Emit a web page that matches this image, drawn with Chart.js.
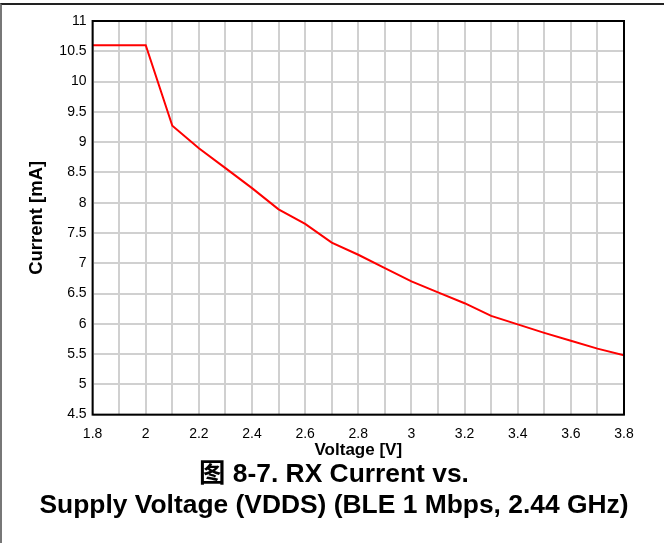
<!DOCTYPE html>
<html>
<head>
<meta charset="utf-8">
<script src="https://cdn.jsdelivr.net/npm/chart.js@4"></script>
<style>
  html, body { margin: 0; padding: 0; background: #fff; }
  #frame { position: absolute; left: 0; top: 3px; width: 664px; height: 540px;
           border-top: 2px solid #222; border-left: 2px solid #777; box-sizing: border-box; }
  #wrap { position: absolute; left: 0; top: 0; width: 664px; height: 543px; }
</style>
</head>
<body>
<div id="frame"></div>
<div id="wrap"><canvas id="c" width="664" height="543"></canvas></div>
<script>
const voltage = [1.8, 2.0, 2.1, 2.2, 2.3, 2.4, 2.5, 2.6, 2.7, 2.8, 2.9, 3.0, 3.1, 3.2, 3.3, 3.4, 3.5, 3.6, 3.7, 3.8];
const currentMA = [10.6, 10.6, 9.27, 8.90, 8.57, 8.24, 7.89, 7.65, 7.34, 7.14, 6.92, 6.70, 6.52, 6.34, 6.13, 5.99, 5.85, 5.72, 5.59, 5.48];
const xTickLabels = ['1.8', '2', '2.2', '2.4', '2.6', '2.8', '3', '3.2', '3.4', '3.6', '3.8'];
const yTickLabels = ['4.5', '5', '5.5', '6', '6.5', '7', '7.5', '8', '8.5', '9', '9.5', '10', '10.5', '11'];
const xTitle = 'Voltage [V]';
const yTitle = 'Current [mA]';
const titleLines = ['图 8-7. RX Current vs.', 'Supply Voltage (VDDS) (BLE 1 Mbps, 2.44 GHz)'];

const FONT = "'Liberation Sans', Arial, 'Noto Sans CJK SC', sans-serif";

const frameBorder = {
  id: 'frameBorder',
  afterDraw(chart) {
    const a = chart.chartArea, ctx = chart.ctx;
    ctx.save();
    ctx.strokeStyle = '#000';
    ctx.lineWidth = 2;
    ctx.strokeRect(a.left, a.top, a.right - a.left, a.bottom - a.top);
    ctx.restore();
  }
};

new Chart(document.getElementById('c'), {
  type: 'line',
  data: {
    datasets: [{
      data: voltage.map((v, i) => ({ x: v, y: currentMA[i] })),
      borderColor: '#ff0000',
      borderWidth: 2,
      pointRadius: 0,
      tension: 0,
      fill: false
    }]
  },
  options: {
    responsive: false,
    animation: false,
    devicePixelRatio: 1,
    layout: { padding: { left: 24, right: 20, top: 21, bottom: 21 } },
    plugins: {
      legend: { display: false },
      tooltip: { enabled: false },
      title: {
        display: true,
        position: 'bottom',
        text: titleLines,
        color: '#000',
        font: { family: FONT, size: 26.4, weight: 'bold', lineHeight: 1.2 },
        padding: { top: 0, bottom: 0 }
      }
    },
    scales: {
      x: {
        type: 'linear',
        min: 1.8, max: 3.8,
        afterBuildTicks(scale) {
          const t = [];
          for (let i = 0; i <= 20; i++) t.push({ value: 1.8 + i * 0.1 });
          scale.ticks = t;
        },
        afterFit(scale) { scale.paddingRight = 40; },
        ticks: {
          autoSkip: false,
          maxRotation: 0,
          color: '#000',
          padding: 13,
          font: { family: FONT, size: 14, lineHeight: 1 },
          callback: (v, i) => (i % 2 === 0 ? xTickLabels[i / 2] : '')
        },
        grid: { color: '#d0d0d0', lineWidth: 2, drawTicks: false },
        border: { display: false },
        title: { display: true, text: xTitle, color: '#000', padding: { top: -13, bottom: 0 },
                 font: { family: FONT, size: 17, weight: 'bold', lineHeight: 1 } }
      },
      y: {
        type: 'linear',
        min: 4.5, max: 11,
        afterBuildTicks(scale) {
          scale.ticks = yTickLabels.map(s => ({ value: parseFloat(s) }));
        },
        ticks: {
          autoSkip: false,
          color: '#000',
          padding: 6,
          font: { family: FONT, size: 14 },
          callback: (v, i) => yTickLabels[i]
        },
        grid: { color: '#d0d0d0', lineWidth: 2, drawTicks: false },
        border: { display: false },
        title: { display: true, text: yTitle, color: '#000', padding: { top: 3, bottom: 6 },
                 font: { family: FONT, size: 18.5, weight: 'bold', lineHeight: 1.1 } }
      }
    }
  },
  plugins: [frameBorder]
});
</script>
</body>
</html>
